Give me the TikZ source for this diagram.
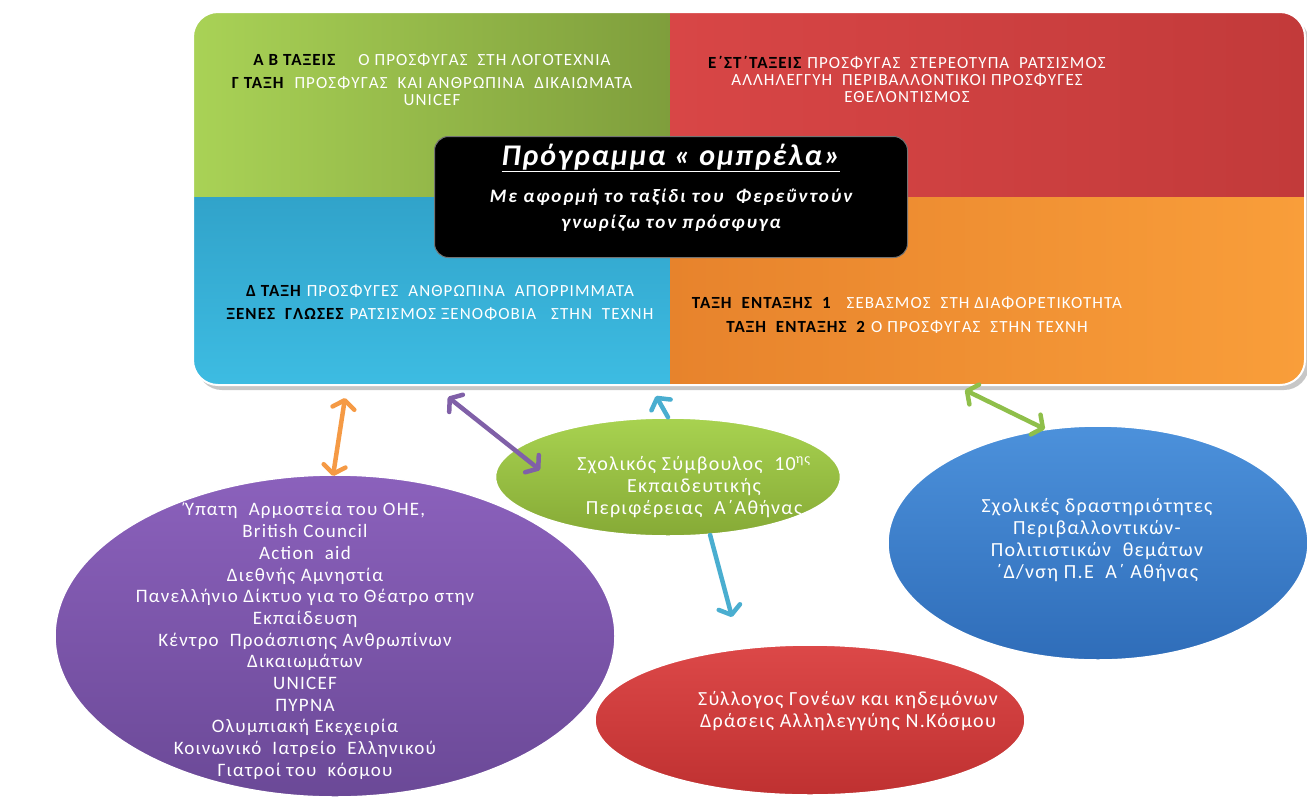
\documentclass[tikz,border=0pt]{standalone}
\usepackage{fontspec}
\setmainfont{Carlito}
\newfontfamily\spaced[LetterSpace=6.5]{Carlito}
\newfontfamily\spacedwide[LetterSpace=10]{Carlito}
\usetikzlibrary{arrows.meta,shapes.geometric}
\definecolor{grnL}{HTML}{A9D256}
\definecolor{grnR}{HTML}{7F9E3C}
\definecolor{redL}{HTML}{D84646}
\definecolor{redR}{HTML}{C23A3A}
\definecolor{bluT}{HTML}{31A3CA}
\definecolor{bluB}{HTML}{3DBCE2}
\definecolor{orgL}{HTML}{E7832C}
\definecolor{orgR}{HTML}{F99E3A}
\definecolor{purT}{HTML}{8B61BC}
\definecolor{purB}{HTML}{6B4997}
\definecolor{ovgT}{HTML}{A8D250}
\definecolor{ovgB}{HTML}{86AA36}
\definecolor{ovbT}{HTML}{4C91DB}
\definecolor{ovbB}{HTML}{2F6DB9}
\definecolor{ovrT}{HTML}{DC4848}
\definecolor{ovrB}{HTML}{BF3131}
\definecolor{arO}{HTML}{F59A45}
\definecolor{arP}{HTML}{8060A8}
\definecolor{arT}{HTML}{4AAED0}
\definecolor{arG}{HTML}{8FBF4A}
\newcommand{\taxi}[1]{\textcolor{black}{\textbf{#1}}}
\newcommand{\quadfont}{\spaced\fontsize{17}{17}\selectfont}
\newcommand{\ovalfont}{\spaced\fontsize{20}{22}\selectfont}
\tikzset{
  barb/.tip={Straight Barb[length=8pt,width=22pt,round]},
  arr/.style={line width=4.5pt, line cap=round},
  quadtext/.style={align=center, text=white, font=\quadfont, inner sep=0pt},
  oval/.style={ellipse, inner sep=0pt, draw=white, line width=1.5pt},
  ovaltext/.style={align=center, text=white, font=\ovalfont, inner sep=0pt},
}

\begin{document}
\begin{tikzpicture}[x=1pt,y=-1pt]
	%%%%% START %%%%%
	\useasboundingbox (0,0) rectangle (1307,796);
	
	% programme box
	\fill[black!22, rounded corners=25] (197,17) rectangle (1309,390);
	\begin{scope}
		\clip[rounded corners=25] (193,12) rectangle (1305,385);
		\shade[left color=grnL, right color=grnR] (193,12) rectangle (670,197);
		\shade[left color=redL, right color=redR] (670,12) rectangle (1305,197);
		\shade[top color=bluT, bottom color=bluB] (193,197) rectangle (670,385);
		\shade[left color=orgL, right color=orgR] (670,197) rectangle (1305,385);
	\end{scope}
	\draw[white, line width=2pt, rounded corners=25] (193,12) rectangle (1305,385);
	
	\node[quadtext] (taxiAB) at (432,80) {\taxi{Α Β ΤΑΞΕΙΣ}\quad\ Ο ΠΡΟΣΦΥΓΑΣ\ \ ΣΤΗ ΛΟΓΟΤΕΧΝΙΑ\\[6pt]
		\taxi{Γ ΤΑΞΗ}\ \ ΠΡΟΣΦΥΓΑΣ\ \ ΚΑΙ ΑΝΘΡΩΠΙΝΑ\ \ ΔΙΚΑΙΩΜΑΤΑ\\ UNICEF};
	\node[quadtext] (taxiEST) at (907,79) {\taxi{Ε΄ΣΤ΄ΤΑΞΕΙΣ}\ ΠΡΟΣΦΥΓΑΣ\ \ ΣΤΕΡΕΟΤΥΠΑ\ \ ΡΑΤΣΙΣΜΟΣ\\
		ΑΛΛΗΛΕΓΓΥΗ\ \ ΠΕΡΙΒΑΛΛΟΝΤΙΚΟΙ ΠΡΟΣΦΥΓΕΣ\\ ΕΘΕΛΟΝΤΙΣΜΟΣ};
	\node[quadtext] (taxiD) at (440,303) {\taxi{Δ ΤΑΞΗ} ΠΡΟΣΦΥΓΕΣ\ \ ΑΝΘΡΩΠΙΝΑ\ \ ΑΠΟΡΡΙΜΜΑΤΑ\\[6pt]
		\taxi{ΞΕΝΕΣ\ \ ΓΛΩΣΕΣ} ΡΑΤΣΙΣΜΟΣ ΞΕΝΟΦΟΒΙΑ\ \ \ ΣΤΗΝ\ \ ΤΕΧΝΗ};
	\node[quadtext] (taxiEnt) at (907,315) {\taxi{ΤΑΞΗ\ \ ΕΝΤΑΞΗΣ\ \ 1}\ \ \ ΣΕΒΑΣΜΟΣ\ \ ΣΤΗ ΔΙΑΦΟΡΕΤΙΚΟΤΗΤΑ\\[7pt]
		\taxi{ΤΑΞΗ\ \ ΕΝΤΑΞΗΣ\ \ 2} Ο ΠΡΟΣΦΥΓΑΣ\ \ ΣΤΗΝ ΤΕΧΝΗ};
	
	% centre box
	\node[fill=black, draw=black!55, line width=1pt, rounded corners=14, minimum width=473pt, minimum height=121pt] (omprela) at (671,197) {};
	\node[text=white, font=\spaced\fontsize{30}{32}\selectfont\bfseries\itshape] (titlos) at (671,158) {\underline{Πρόγραμμα « ομπρέλα»}};
	\node[text=white, align=center, font=\spacedwide\fontsize{19}{26}\selectfont\bfseries\itshape] (ypotitlos) at (671,210) {Με αφορμή το ταξίδι του\ \ Φερεΰντούν\\ γνωρίζω τον πρόσφυγα};
	
	% partners
	\node[oval, top color=purT, bottom color=purB, minimum width=560pt, minimum height=322pt] (foreis) at (335,636) {};
	\node[ovaltext, font=\spaced\fontsize{19}{21.7}\selectfont] (foreisT) at (305,641) {Ύπατη\ \ Αρμοστεία του ΟΗΕ,\\ British Council\\ Action\ \ aid\\ Διεθνής Αμνηστία\\
		Πανελλήνιο Δίκτυο για το Θέατρο στην\\ Εκπαίδευση\\ Κέντρο\ \ Προάσπισης Ανθρωπίνων\\ Δικαιωμάτων\\ UNICEF\\ ΠΥΡΝΑ\\
		Ολυμπιακή Εκεχειρία\\ Κοινωνικό\ \ Ιατρείο\ \ Ελληνικού\\ Γιατροί του\ \ κόσμου};
	
	\node[oval, top color=ovgT, bottom color=ovgB, minimum width=345pt, minimum height=118pt] (symvoulos) at (668,477) {};
	\node[ovaltext] (symvoulosT) at (694,487) {Σχολικός Σύμβουλος\ \ 10\textsuperscript{ης}\\ Εκπαιδευτικής\\ Περιφέρειας\ \ Α΄Αθήνας};
	
	\node[oval, top color=ovrT, bottom color=ovrB, minimum width=430pt, minimum height=150pt] (goneis) at (810,720) {};
	\node[ovaltext] (goneisT) at (848,711) {Σύλλογος Γονέων και κηδεμόνων\\ Δράσεις Αλληλεγγύης Ν.Κόσμου};
	
	\node[oval, top color=ovbT, bottom color=ovbB, minimum width=420pt, minimum height=234pt] (drast) at (1098,543) {};
	\node[ovaltext] (drastT) at (1097,540) {Σχολικές δραστηριότητες\\ Περιβαλλοντικών-\\ Πολιτιστικών\ \ θεμάτων\\ ΄Δ/νση Π.Ε\ \ Α΄\ Αθήνας};
	
	% arrows
	\coordinate (oTop) at (345,398);
	\coordinate (oBot) at (333,476);
	\coordinate (pTop) at (448,397);
	\coordinate (pBot) at (540,470);
	\coordinate (tTop) at (656,396);
	\coordinate (tBot) at (732,617);
	\coordinate (gTop) at (965,390);
	\draw[arr, arO, barb-barb] (oTop) -- (oBot);
	\draw[arr, arP, barb-barb] (pTop) -- (pBot);
	\draw[arr, arT, -barb] (symvoulos.north) -- (tTop);
	\draw[arr, arT, -barb] (symvoulos.306) -- (tBot);
	\draw[arr, arG, barb-barb] (gTop) -- (drast.115);
	
	%%%%% END %%%%%
\end{tikzpicture}
\end{document}
